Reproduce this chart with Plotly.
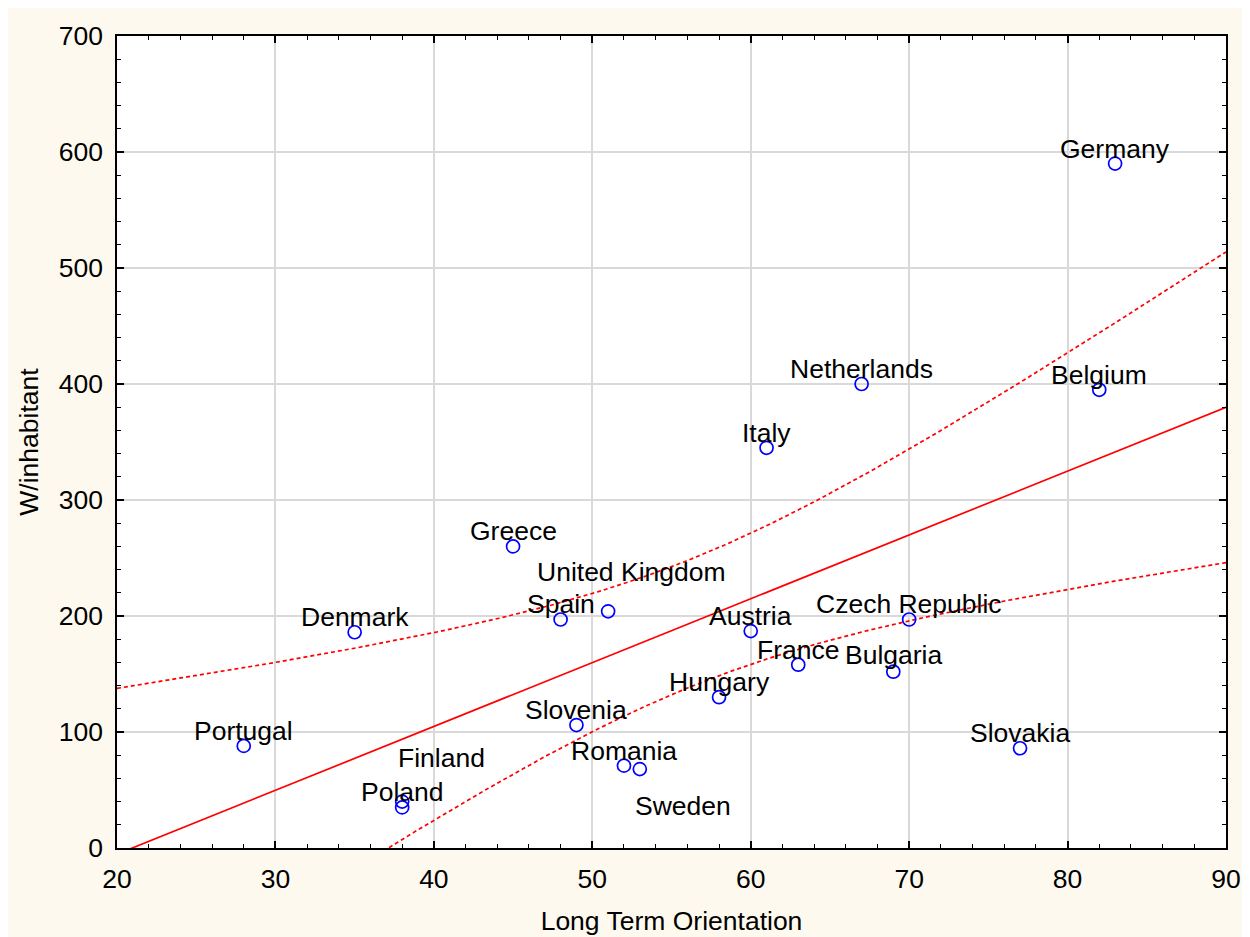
import numpy as np
import plotly.graph_objects as go

countries = ["Germany", "Netherlands", "Belgium", "Italy", "Greece", "United Kingdom",
             "Spain", "Denmark", "Austria", "Czech Republic", "France", "Bulgaria",
             "Hungary", "Slovenia", "Portugal", "Slovakia", "Romania", "Sweden",
             "Finland", "Poland"]
lto = [83, 67, 82, 61, 45, 51, 48, 35, 60, 70, 63, 69, 58, 49, 28, 77, 52, 53, 38, 38]
w_per_inhabitant = [590, 400, 395, 345, 260, 204, 197, 186, 187, 197, 158, 152,
                    130, 106, 88, 86, 71, 68, 40, 35]

# label offsets in pixels (style only)
label_shift = {"United Kingdom": (23, 39), "Finland": (39, 44), "Sweden": (43, -37),
               "Bulgaria": (0, 17)}

x = np.array(lto, dtype=float)
y = np.array(w_per_inhabitant, dtype=float)
n = len(x)
b1, b0 = np.polyfit(x, y, 1)
resid = y - (b0 + b1 * x)
s = np.sqrt(np.sum(resid ** 2) / (n - 2))
sxx = np.sum((x - x.mean()) ** 2)
t_crit = 2.1009  # t(0.975, df=18)
xs = np.linspace(20, 90, 300)
yhat = b0 + b1 * xs
half = t_crit * s * np.sqrt(1.0 / n + (xs - x.mean()) ** 2 / sxx)

FONT = "Liberation Sans, Arial, sans-serif"
FS = 26.5

fig = go.Figure()
fig.add_trace(go.Scatter(x=xs, y=yhat, mode="lines",
                         line=dict(color="#FF0000", width=1.7), hoverinfo="skip"))
fig.add_trace(go.Scatter(x=xs, y=yhat + half, mode="lines",
                         line=dict(color="#FF0000", width=1.7, dash="4px,3px"), hoverinfo="skip"))
fig.add_trace(go.Scatter(x=xs, y=yhat - half, mode="lines",
                         line=dict(color="#FF0000", width=1.7, dash="4px,3px"), hoverinfo="skip"))
fig.add_trace(go.Scatter(x=lto, y=w_per_inhabitant, mode="markers", text=countries,
                         marker=dict(symbol="circle-open", size=13, color="#0000FF",
                                     line=dict(width=1.7, color="#0000FF")),
                         cliponaxis=False))

for c, xv, yv in zip(countries, lto, w_per_inhabitant):
    dx, dy = label_shift.get(c, (0, 15))
    fig.add_annotation(x=xv, y=yv, text=c, showarrow=False, xshift=dx, yshift=dy,
                       xanchor="center", yanchor="middle",
                       font=dict(family=FONT, size=FS, color="black"))

axis_common = dict(showline=True, linecolor="black", linewidth=1.6, mirror="ticks",
                   ticks="inside", ticklen=7, tickwidth=1.6, tickcolor="black",
                   showgrid=True, gridcolor="#D9D9D9", gridwidth=1.5, zeroline=False,
                   automargin=False,
                   tickfont=dict(family=FONT, size=FS, color="black"))

fig.update_xaxes(range=[20, 90], dtick=10, tick0=20, ticklabelstandoff=6,
                 minor=dict(ticks="inside", dtick=2, ticklen=4, tickwidth=1.2,
                            tickcolor="black", showgrid=False),
                 title=dict(text="Long Term Orientation", standoff=19,
                            font=dict(family=FONT, size=FS, color="black")),
                 **axis_common)
fig.update_yaxes(range=[0, 700], dtick=100, tick0=0, ticklabelstandoff=7,
                 minor=dict(ticks="inside", dtick=20, ticklen=4, tickwidth=1.2,
                            tickcolor="black", showgrid=False),
                 title=dict(text="W/inhabitant", standoff=12,
                            font=dict(family=FONT, size=FS, color="black")),
                 **axis_common)

fig.update_layout(width=1242, height=929, showlegend=False,
                  paper_bgcolor="#FDF9EE", plot_bgcolor="white",
                  margin=dict(l=109, r=24, t=28, b=89),
                  font=dict(family=FONT, color="black"))

fig.write_html("out.html")
